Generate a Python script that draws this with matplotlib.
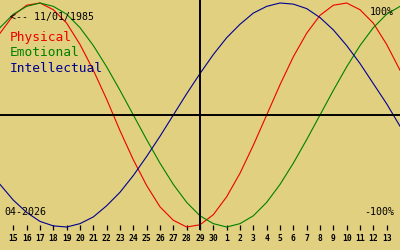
"""
Biorhythm chart, 04-2026
"""

import matplotlib
matplotlib.use("Agg")
import matplotlib.pyplot as plt

# --- DATA --- #
# day index 0..30 (index 1 = 15th, index 15 = 29th = today)
day_index = list(range(31))
day_labels = [str(d) for d in range(15, 31)] + [str(d) for d in range(1, 14)]
tick_pos = list(range(1, 30))

physical = [0.73, 0.89, 0.98, 1.00, 0.94, 0.82, 0.63, 0.40, 0.14, -0.14,
            -0.40, -0.63, -0.82, -0.94, -1.00, -0.98, -0.89, -0.73, -0.52, -0.27,
            0.00, 0.27, 0.52, 0.73, 0.89, 0.98, 1.00, 0.94, 0.82, 0.63, 0.40]
emotional = [0.78, 0.90, 0.97, 1.00, 0.97, 0.90, 0.78, 0.62, 0.43, 0.22,
             0.00, -0.22, -0.43, -0.62, -0.78, -0.90, -0.97, -1.00, -0.97, -0.90,
             -0.78, -0.62, -0.43, -0.22, 0.00, 0.22, 0.43, 0.62, 0.78, 0.90, 0.97]
intellectual = [-0.62, -0.76, -0.87, -0.95, -0.99, -1.00, -0.97, -0.91, -0.81, -0.69,
                -0.54, -0.37, -0.19, 0.00, 0.19, 0.37, 0.54, 0.69, 0.81, 0.91,
                0.97, 1.00, 0.99, 0.95, 0.87, 0.76, 0.62, 0.46, 0.28, 0.10, -0.10]
today_index = 15

birth_text = "<-- 11/01/1985"
month_text = "04-2026"

BG = "#E0D080"
RED = "#EE0000"
GREEN = "#008000"
BLUE = "#000090"
MONO = "DejaVu Sans Mono"

# --- FIGURE --- #
fig = plt.figure(figsize=(4, 2.5), dpi=100, facecolor=BG)
ax = fig.add_axes([0, 0, 1, 1])
ax.set_facecolor(BG)

ax.plot(day_index, physical, color=RED, lw=0.8)
ax.plot(day_index, emotional, color=GREEN, lw=0.8)
ax.plot(day_index, intellectual, color=BLUE, lw=0.8)

ax.axhline(0, color="black", lw=1.4)
ax.axvline(today_index, ymin=0.085, ymax=1, color="black", lw=1.4)

ax.set_xlim(0, 30)
ax.set_ylim((115 - 250) / 112, 115 / 112)

for s in ax.spines.values():
    s.set_visible(False)
ax.spines["bottom"].set_position(("axes", 0.08))
ax.set_yticks([])
ax.set_xticks(tick_pos)
ax.set_xticklabels(day_labels)
ax.tick_params(axis="x", direction="in", length=3.8, width=0.9, color="black",
               pad=3, labelsize=5.8, labelcolor="black")
for lbl in ax.get_xticklabels():
    lbl.set_fontfamily(MONO)
    lbl.set_fontweight("bold")

# --- TEXT --- #
def px(x, y):
    return x / 400, 1 - y / 250

fig.text(*px(10, 17), birth_text, fontsize=7.1, family=MONO, va="center", ha="left")
fig.text(*px(10, 38), "Physical", fontsize=9.3, family=MONO, color=RED, va="center")
fig.text(*px(10, 53), "Emotional", fontsize=9.3, family=MONO, color=GREEN, va="center")
fig.text(*px(10, 68), "Intellectual", fontsize=9.3, family=MONO, color=BLUE, va="center")
fig.text(*px(394, 12), "100%", fontsize=7.2, family=MONO, va="center", ha="right")
fig.text(*px(394, 212), "-100%", fontsize=7.2, family=MONO, va="center", ha="right")
fig.text(*px(4, 212), month_text, fontsize=7.2, family=MONO, va="center", ha="left")

fig.savefig("out.png", dpi=100, facecolor=BG)
